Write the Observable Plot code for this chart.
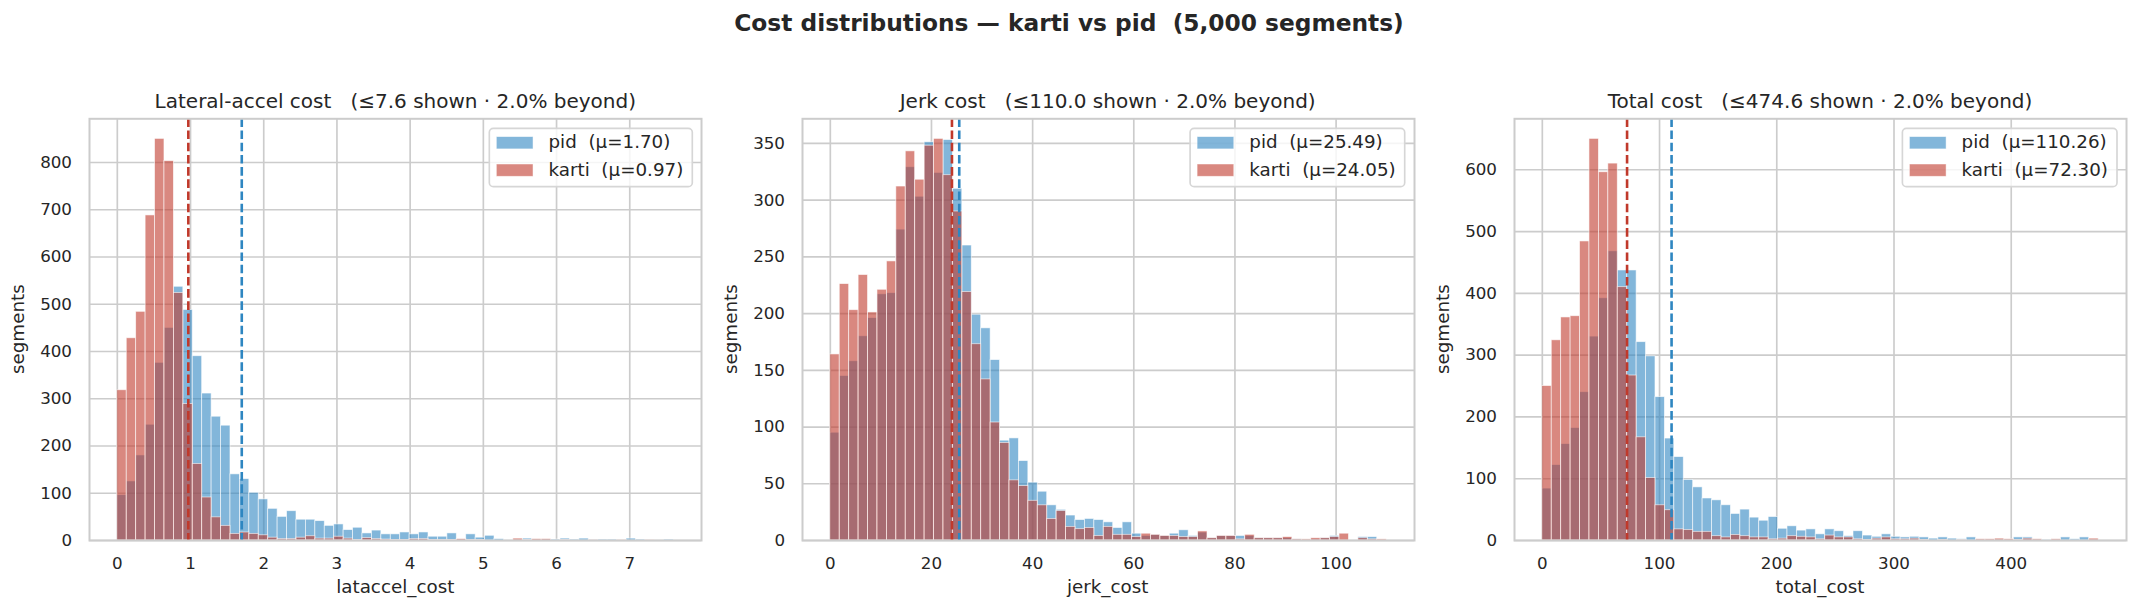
<!DOCTYPE html>
<html>
<head>
<meta charset="utf-8">
<script src="https://cdn.jsdelivr.net/npm/d3@7"></script>
<script src="https://cdn.jsdelivr.net/npm/@observablehq/plot@0.6"></script>
<style>
  html, body { margin: 0; padding: 0; background: #fff; }
  #root { position: relative; width: 2138px; height: 612px; background: #fff; overflow: hidden; }
  #root > svg.plot { position: absolute; top: 0; }
  #overlay { position: absolute; left: 0; top: 0; pointer-events: none; }
</style>
</head>
<body>
<div id="root"></div>
<script>
// ---------- data (counts per bin) ----------
const panelTitles = [
  "Lateral-accel cost   (≤7.6 shown · 2.0% beyond)",
  "Jerk cost   (≤110.0 shown · 2.0% beyond)",
  "Total cost   (≤474.6 shown · 2.0% beyond)"
];
const xLabels = ["lataccel_cost", "jerk_cost", "total_cost"];
const clipValues = [7.6, 110.0, 474.6];
const pidMeans = [1.70, 25.49, 110.26];
const kartiMeans = [0.97, 24.05, 72.30];

const xTicks1 = [0, 1, 2, 3, 4, 5, 6, 7];
const xTicks2 = [0, 20, 40, 60, 80, 100];
const xTicks3 = [0, 100, 200, 300, 400];
const yTicks1 = [0, 100, 200, 300, 400, 500, 600, 700, 800];
const yTicks2 = [0, 50, 100, 150, 200, 250, 300, 350];
const yTicks3 = [0, 100, 200, 300, 400, 500, 600];

const latPid = [96,125,180,245,376,450,537,488,390,311,
  262,243,140,130,101,87,67,50,62,44,
  44,41,31,34,22,27,15,21,13,13,
  17,13,17,8,8,15,2,13,6,10,
  3,0,0,4,0,2,2,4,2,4,
  2,2,2,0,4,2,0,0,2];
const latKarti = [318,428,484,688,850,803,524,289,162,91,
  49,31,14,17,14,11,6,3,3,6,
  9,4,4,8,4,1,5,3,2,1,
  1,3,3,1,1,1,3,1,1,0,
  0,0,4,1,3,3,0,1,0,0,
  1,0,0,1,0,0,1,0,0];

const jerkPid = [95,145,158,180,196,217,218,274,329,303,
  351,324,353,310,260,199,187,159,88,90,
  70,51,43,31,27,22,18,19,18,16,
  11,16,6,4,5,4,6,9,4,7,
  2,4,4,4,4,2,2,2,2,1,
  0,1,2,4,0,0,3,3,0];
const jerkKarti = [164,226,203,234,201,221,246,312,343,318,
  348,354,322,290,219,173,142,104,86,53,
  48,35,31,19,26,12,10,11,4,12,
  5,5,3,6,5,4,4,3,3,8,
  2,4,4,1,5,2,2,2,3,1,
  1,2,2,3,6,0,2,1,1];

const totPid = [84,122,156,182,240,330,392,468,437,437,
  321,298,232,165,135,98,86,68,65,57,
  43,50,37,32,38,19,23,16,18,10,
  18,15,7,15,8,6,10,6,5,6,
  5,3,5,3,2,5,0,0,1,0,
  5,5,1,1,0,5,2,5,1];
const totKarti = [250,324,361,363,484,650,596,610,410,267,
  167,101,57,49,18,17,14,14,7,5,
  9,7,5,5,2,3,7,6,5,2,
  8,5,5,2,1,3,5,2,2,3,
  1,0,1,0,1,0,2,2,3,2,
  1,3,2,0,2,0,0,0,3];

const pidColor = "#2E86C1";
const kartiColor = "#C0392B";

// ---------- layout ----------
const FONT = "DejaVu Sans";
const axisTop = 118.3, axisBottom = 540, axisW = 612;
const axisLefts = [89.3, 801.7, 1514];
const mL = 80, mR = 12;

const panels = [
  {pid: latPid, karti: latKarti, xTicks: xTicks1, yTicks: yTicks1},
  {pid: jerkPid, karti: jerkKarti, xTicks: xTicks2, yTicks: yTicks2},
  {pid: totPid, karti: totKarti, xTicks: xTicks3, yTicks: yTicks3}
];

const root = document.getElementById("root");

panels.forEach((p, k) => {
  const clip = clipValues[k];
  const n = p.pid.length;
  const edges = d3.range(n + 1).map(i => clip * i / n);
  const rows = counts => counts.map((c, i) => ({x1: edges[i], x2: edges[i + 1], c}));
  const yMax = 1.05 * d3.max([...p.pid, ...p.karti]);
  const barOpts = color => ({
    x1: "x1", x2: "x2", y1: 0, y2: "c",
    fill: color, fillOpacity: 0.6,
    stroke: "white", strokeOpacity: 0.7, strokeWidth: 0.8
  });
  const chart = Plot.plot({
    width: mL + axisW + mR,
    height: 612,
    marginTop: axisTop,
    marginBottom: 612 - axisBottom,
    marginLeft: mL,
    marginRight: mR,
    x: {domain: [-0.05 * clip, 1.05 * clip]},
    y: {domain: [0, yMax]},
    style: {fontFamily: FONT, fontSize: "16.7px", color: "#262626", background: "transparent", overflow: "visible"},
    marks: [
      Plot.gridX(p.xTicks, {stroke: "#cccccc", strokeOpacity: 1, strokeWidth: 1.67}),
      Plot.gridY(p.yTicks, {stroke: "#cccccc", strokeOpacity: 1, strokeWidth: 1.67}),
      Plot.rectY(rows(p.pid), barOpts(pidColor)),
      Plot.rectY(rows(p.karti), barOpts(kartiColor)),
      Plot.ruleX([pidMeans[k]], {stroke: pidColor, strokeWidth: 2.6, strokeDasharray: "8.6,3.6"}),
      Plot.ruleX([kartiMeans[k]], {stroke: kartiColor, strokeWidth: 2.6, strokeDasharray: "8.6,3.6"}),
      Plot.frame({stroke: "#cccccc", strokeWidth: 2}),
      Plot.axisX(p.xTicks, {tickSize: 0, tickPadding: 17, fontSize: 16.7, label: null}),
      Plot.axisY(p.yTicks, {tickSize: 0, tickPadding: 17.5, fontSize: 16.7, label: null})
    ]
  });
  chart.classList.add("plot");
  chart.style.left = (axisLefts[k] - mL) + "px";
  root.appendChild(chart);
});

// ---------- texts: titles, labels, legends ----------
const ov = d3.select(root).append("svg")
  .attr("id", "overlay")
  .attr("width", 2138).attr("height", 612)
  .style("font-family", FONT);

ov.append("text")
  .attr("x", 1069).attr("y", 30.5)
  .attr("text-anchor", "middle")
  .attr("font-size", 23.3).attr("font-weight", "bold")
  .attr("fill", "#262626")
  .style("white-space", "pre")
  .text("Cost distributions — karti vs pid  (5,000 segments)");

panels.forEach((p, k) => {
  const L = axisLefts[k], R = L + axisW, cx = L + axisW / 2;
  ov.append("text")
    .attr("x", cx).attr("y", 108.3)
    .attr("text-anchor", "middle")
    .attr("font-size", 20).attr("fill", "#262626")
    .style("white-space", "pre")
    .text(panelTitles[k]);
  ov.append("text")
    .attr("x", cx).attr("y", 593)
    .attr("text-anchor", "middle")
    .attr("font-size", 18.3).attr("fill", "#262626")
    .text(xLabels[k]);
  ov.append("text")
    .attr("transform", `translate(${L - 65.2},${(axisTop + axisBottom) / 2}) rotate(-90)`)
    .attr("text-anchor", "middle")
    .attr("font-size", 18.3).attr("fill", "#262626")
    .text("segments");

  // legend
  const labels = [
    {t: `pid  (μ=${pidMeans[k].toFixed(2)})`, c: pidColor},
    {t: `karti  (μ=${kartiMeans[k].toFixed(2)})`, c: kartiColor}
  ];
  const g = ov.append("g");
  const box = g.append("rect");
  const texts = labels.map((d, i) => g.append("text")
    .attr("font-size", 18.3).attr("fill", "#262626")
    .style("white-space", "pre")
    .attr("y", axisTop + 30 + i * 27.4)
    .text(d.t));
  const tw = d3.max(texts, t => t.node().getComputedTextLength());
  const boxW = 7 + 36.7 + 15.5 + tw + 9;
  const bx = R - 9 - boxW, by = axisTop + 10;
  box.attr("x", bx).attr("y", by).attr("width", boxW).attr("height", 58.4)
    .attr("rx", 4).attr("ry", 4)
    .attr("fill", "white").attr("fill-opacity", 0.8)
    .attr("stroke", "#d6d6d6").attr("stroke-width", 1.67);
  texts.forEach(t => t.attr("x", bx + 7 + 36.7 + 15.5));
  labels.forEach((d, i) => {
    g.append("rect")
      .attr("x", bx + 7).attr("y", axisTop + 18.3 + i * 27.4)
      .attr("width", 36.7).attr("height", 12.3)
      .attr("fill", d.c).attr("fill-opacity", 0.6)
      .attr("stroke", "white").attr("stroke-opacity", 0.6).attr("stroke-width", 0.8);
  });
});
</script>
</body>
</html>
